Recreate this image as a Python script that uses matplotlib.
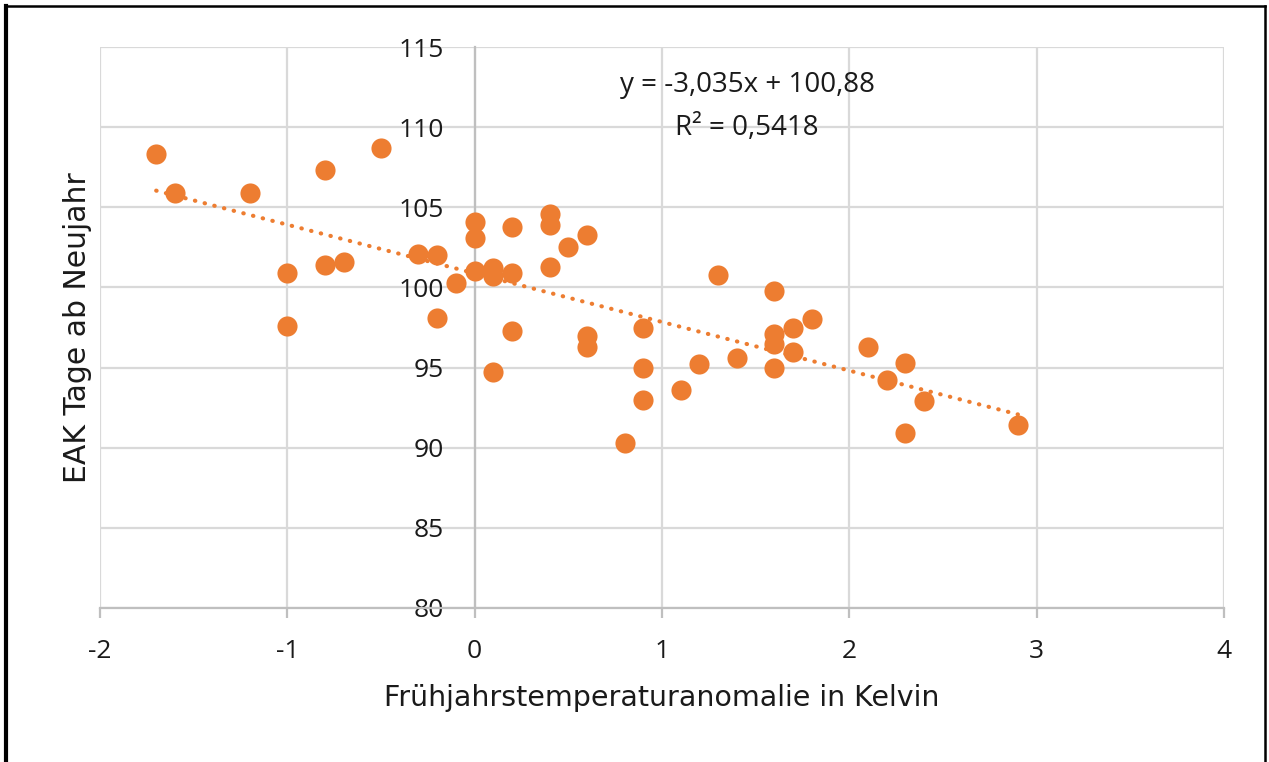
import numpy as np
import matplotlib
matplotlib.use("Agg")
import matplotlib.pyplot as plt
from matplotlib.lines import Line2D

# spring temperature anomaly (K) and EAK day of year
temp_anomaly = [-1.7, -1.6, -1.2, -0.8, -0.5, -1.0, -1.0, -0.8, -0.7, -0.3,
                -0.2, -0.2, -0.1, 0.0, 0.0, 0.0, 0.1, 0.1, 0.1, 0.2,
                0.2, 0.2, 0.4, 0.4, 0.4, 0.5, 0.6, 0.6, 0.6, 0.8,
                0.9, 0.9, 0.9, 1.1, 1.2, 1.3, 1.4, 1.6, 1.6, 1.6,
                1.6, 1.7, 1.7, 1.8, 2.1, 2.2, 2.3, 2.3, 2.4, 2.9]
eak_days = [108.3, 105.9, 105.9, 107.3, 108.7, 100.9, 97.6, 101.4, 101.6, 102.1,
            102.0, 98.1, 100.3, 104.1, 103.1, 101.0, 101.2, 100.7, 94.7, 103.8,
            100.9, 97.3, 104.6, 103.9, 101.3, 102.5, 103.3, 97.0, 96.3, 90.3,
            97.5, 95.0, 93.0, 93.6, 95.2, 100.8, 95.6, 99.8, 97.1, 96.5,
            95.0, 97.5, 96.0, 98.0, 96.3, 94.2, 95.3, 90.9, 92.9, 91.4]

# trendline as printed on the chart
slope = -3.035
intercept = 100.88
r2 = 0.5418

xticks = [-2, -1, 0, 1, 2, 3, 4]
yticks = [80, 85, 90, 95, 100, 105, 110, 115]

orange = '#ED7D31'
grid_col = '#D9D9D9'
axis_col = '#BFBFBF'
text_col = '#1a1a1a'

plt.rcParams['font.family'] = ['Open Sans', 'DejaVu Sans']

fig = plt.figure(figsize=(12.69, 7.62), dpi=100)
ax = fig.add_axes([0.0788, 0.2021, 0.8857, 0.7362])

# y axis crosses at x = 0 (set before ticks, it resets them)
for s in ['top', 'right']:
	ax.spines[s].set_visible(False)
ax.spines['left'].set_position(('data', 0))
ax.spines['left'].set_color(axis_col)
ax.spines['left'].set_linewidth(1.6)
ax.spines['bottom'].set_color(axis_col)
ax.spines['bottom'].set_linewidth(1.6)

ax.set_xlim(-2, 4)
ax.set_ylim(80, 115)
ax.set_xticks(xticks)
ax.set_yticks(yticks)
ax.set_xticklabels([str(t) for t in xticks])
ax.set_yticklabels([str(t) for t in yticks])

ax.grid(True, color=grid_col, linewidth=1.6, zorder=0)
ax.set_axisbelow(True)

ax.tick_params(axis='x', direction='out', length=7, width=1.6, color=axis_col, pad=15,
	labelcolor=text_col, labelsize=19)
ax.tick_params(axis='y', length=0, pad=22, labelcolor=text_col, labelsize=19)

ax.scatter(temp_anomaly, eak_days, s=210, color=orange, linewidths=0, zorder=3)

xs = np.array([min(temp_anomaly), max(temp_anomaly)])
ax.plot(xs, slope * xs + intercept, color=orange, linewidth=3,
	linestyle=(0, (0.1, 2.3)), dash_capstyle='round', zorder=4)

eq = 'y = {}x + {}'.format(str(slope).replace('.', ','), str(intercept).replace('.', ','))
ax.text(1.454, 112.19, eq, ha='center', va='baseline', fontsize=20, color=text_col)
ax.text(1.454, 109.5, 'R² = {}'.format(str(r2).replace('.', ',')),
	ha='center', va='baseline', fontsize=20, color=text_col)

ax.set_xlabel('Frühjahrstemperaturanomalie in Kelvin', fontsize=20.5, color=text_col,
	family=['DejaVu Sans'])
ax.xaxis.set_label_coords(0.5, -0.136)
ax.set_ylabel('EAK Tage ab Neujahr', fontsize=21.5, color=text_col, family=['DejaVu Sans'])
ax.yaxis.set_label_coords(-0.0071, 0.5)

# black frame around the picture
fig.add_artist(Line2D([6 / 1269, 6 / 1269], [0, 1 - 6 / 762], transform=fig.transFigure,
	color='black', linewidth=3))
fig.add_artist(Line2D([6 / 1269, 1265 / 1269], [1 - 6 / 762, 1 - 6 / 762], transform=fig.transFigure,
	color='black', linewidth=1.8))
fig.add_artist(Line2D([1265 / 1269, 1265 / 1269], [0, 1 - 6 / 762], transform=fig.transFigure,
	color='black', linewidth=1.8))

fig.savefig('out.png', dpi=100)
